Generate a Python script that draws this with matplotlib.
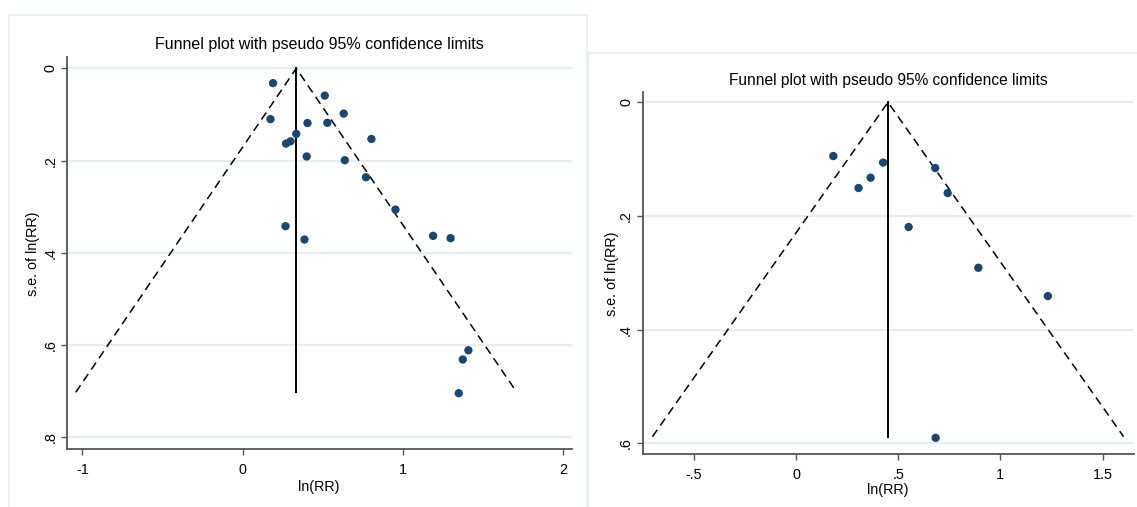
import matplotlib
matplotlib.use("Agg")
import matplotlib.pyplot as plt
from matplotlib.patches import Rectangle

# ---------------- data ----------------
# Left panel: ln(RR) and s.e. of ln(RR)
left_lnrr = [0.189, 0.512, 0.630, 0.173, 0.404, 0.528, 0.334, 0.803, 0.270, 0.298,
             0.399, 0.637, 0.769, 0.953, 0.267, 0.385, 1.188, 1.297, 1.408, 1.373, 1.348]
left_se = [0.032, 0.059, 0.098, 0.110, 0.1185, 0.118, 0.142, 0.153, 0.163, 0.158,
           0.191, 0.199, 0.236, 0.306, 0.342, 0.371, 0.363, 0.368, 0.611, 0.631, 0.704]
left_pooled = 0.334
left_se_max = 0.702

# Right panel
right_lnrr = [0.1825, 0.426, 0.365, 0.306, 0.681, 0.742, 0.551, 0.892, 1.232, 0.683]
right_se = [0.0945, 0.106, 0.1326, 0.1507, 0.1156, 0.1595, 0.2193, 0.291, 0.3407, 0.590]
right_pooled = 0.450
right_se_max = 0.588

left_xticks = [-1, 0, 1, 2]
left_xticklabels = ["-1", "0", "1", "2"]
left_yticks = [0, 0.2, 0.4, 0.6, 0.8]
left_yticklabels = ["0", ".2", ".4", ".6", ".8"]

right_xticks = [-0.5, 0, 0.5, 1, 1.5]
right_xticklabels = ["-.5", "0", ".5", "1", "1.5"]
right_yticks = [0, 0.2, 0.4, 0.6]
right_yticklabels = ["0", ".2", ".4", ".6"]

title_text = "Funnel plot with pseudo 95% confidence limits"
xlabel_text = "ln(RR)"
ylabel_text = "s.e. of ln(RR)"

# ---------------- style ----------------
plt.rcParams["font.family"] = ["Liberation Sans", "DejaVu Sans"]
KSIZE = 10.4
LSIZE = 10.4

MARKER = "#1A476F"
GRID = "#E6EEF1"
AXC = "#555555"
W, H = 1137, 507

fig = plt.figure(figsize=(W / 100, H / 100), dpi=100)
fig.patch.set_facecolor("white")

# light panel frames (graph regions)
def px_rect(x0, y0, x1, y1):
    return Rectangle((x0 / W, 1 - y1 / H), (x1 - x0) / W, (y1 - y0) / H,
                     transform=fig.transFigure, fill=False, edgecolor="#E8EEF0",
                     linewidth=1.2, zorder=0)
fig.patches.append(px_rect(9, 14.5, 586.5, 520))
fig.patches.append(px_rect(587.5, 52.5, 1150, 520))


def px_axes(x0, y0, x1, y1):
    return fig.add_axes([x0 / W, 1 - y1 / H, (x1 - x0) / W, (y1 - y0) / H])


def funnel(ax, lnrr, se, pooled, se_max, xlim, ylim, xticks, xtl, yticks, ytl,
           tsize, title_pad, xlab_pad, ylab_pad, xtick_pad, ytick_pad):
    ax.set_xlim(*xlim)
    ax.set_ylim(*ylim)
    for s in ["top", "right"]:
        ax.spines[s].set_visible(False)
    for s in ["left", "bottom"]:
        ax.spines[s].set_color(AXC)
        ax.spines[s].set_linewidth(1.3)
    ax.set_yticks(yticks)
    ax.set_yticklabels(ytl, rotation=90, va="center", fontsize=KSIZE)
    ax.set_xticks(xticks)
    ax.set_xticklabels(xtl, fontsize=KSIZE)
    ax.tick_params(axis="both", direction="out", length=4.5, width=1.0, color=AXC)
    ax.tick_params(axis="x", pad=xtick_pad)
    ax.tick_params(axis="y", pad=ytick_pad)
    ax.grid(axis="y", color=GRID, linewidth=1.6)
    ax.set_axisbelow(True)

    half = 1.96 * se_max
    ax.plot([pooled - half, pooled, pooled + half], [se_max, 0, se_max],
            color="black", linestyle=(0, (5.5, 3.5)), linewidth=1.1, zorder=2)
    ax.plot([pooled, pooled], [0, se_max], color="black", linewidth=1.4, zorder=2)
    ax.scatter(lnrr, se, s=36, color=MARKER, edgecolors="none", zorder=3)

    ax.set_title(title_text, fontsize=tsize, pad=title_pad)
    ax.set_xlabel(xlabel_text, fontsize=LSIZE, labelpad=xlab_pad)
    ax.set_ylabel(ylabel_text, fontsize=LSIZE, labelpad=ylab_pad)


ax1 = px_axes(66.6, 57.3, 571.6, 449.3)
funnel(ax1, left_lnrr, left_se, left_pooled, left_se_max,
       (-1.099, 2.052), (0.8256, -0.024), left_xticks, left_xticklabels,
       left_yticks, left_yticklabels, 11.5, 6.0, 1.8, 2.5, 5.5, 2.2)

ax2 = px_axes(642.5, 92.3, 1133.7, 454.3)
funnel(ax2, right_lnrr, right_se, right_pooled, right_se_max,
       (-0.751, 1.652), (0.619, -0.0176), right_xticks, right_xticklabels,
       right_yticks, right_yticklabels, 11.2, 5.0, 1.0, 0.3, 5.2, 2.2)

fig.savefig("out.png", dpi=100)
